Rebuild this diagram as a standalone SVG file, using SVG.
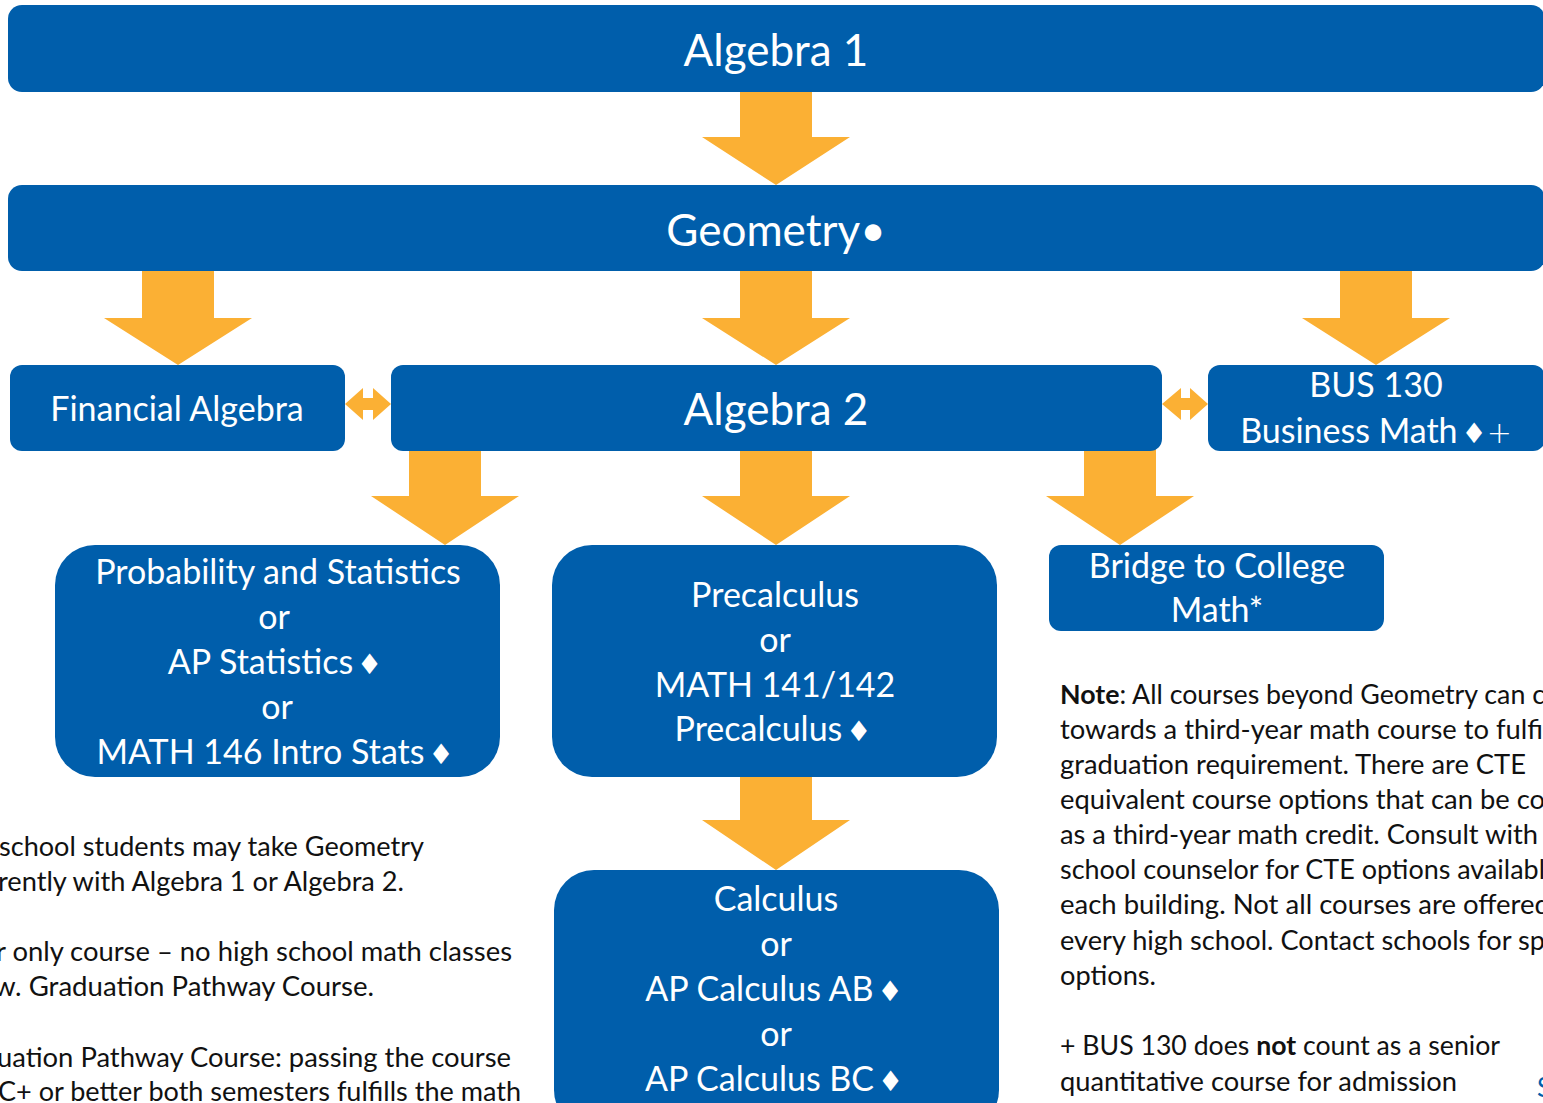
<svg xmlns="http://www.w3.org/2000/svg" width="1543" height="1103" viewBox="0 0 1543 1103">
<style>
.box{fill:#005EAB}
.arr{fill:#FBB034}
.t{font-family:Lato,"Open Sans","Liberation Sans",sans-serif;fill:#fff;text-anchor:middle}
.big{font-size:44px}
.mid{font-size:34px}
.n{font-family:Lato,"Open Sans","Liberation Sans",sans-serif;fill:#111;font-size:26px}
</style>
<rect width="1543" height="1103" fill="#fff"/>
<g id="connectors">
<polygon class="arr" points="740,90 812,90 812,137 850,137 776,185 702,137 740,137"/>
<polygon class="arr" points="142,269 214,269 214,318 252,318 178,365 104,318 142,318"/>
<polygon class="arr" points="740,269 812,269 812,318 850,318 776,365 702,318 740,318"/>
<polygon class="arr" points="1340,269 1412,269 1412,318 1450,318 1376,365 1302,318 1340,318"/>
<polygon class="arr" points="409,449 481,449 481,496 519,496 445,545 371,496 409,496"/>
<polygon class="arr" points="740,449 812,449 812,496 850,496 776,545 702,496 740,496"/>
<polygon class="arr" points="1084,449 1156,449 1156,496 1194,496 1120,545 1046,496 1084,496"/>
<polygon class="arr" points="740,775 812,775 812,820 850,820 776,870 702,820 740,820"/>
<polygon class="arr" points="345,404 363,388 363,398 373,398 373,388 391,404 373,420 373,410 363,410 363,420"/>
<polygon class="arr" points="1162,404 1181,388 1181,398 1190,398 1190,388 1208,404 1190,420 1190,410 1181,410 1181,420"/>
</g>
<g id="algebra1">
<rect class="box" x="8" y="5" width="1537" height="87" rx="14"/>
<text class="t big" x="776" y="66">Algebra 1</text>
</g>
<g id="geometry">
<rect class="box" x="8" y="185" width="1537" height="86" rx="14"/>
<text class="t big" x="776" y="246">Geometry•</text>
</g>
<g id="financial-algebra">
<rect class="box" x="10" y="365" width="335" height="86" rx="12"/>
<text class="t mid" x="177" y="421">Financial Algebra</text>
</g>
<g id="algebra2">
<rect class="box" x="391" y="365" width="771" height="86" rx="12"/>
<text class="t big" x="776" y="425">Algebra 2</text>
</g>
<g id="bus130">
<rect class="box" x="1208" y="365" width="337" height="86" rx="12"/>
<text class="t mid" x="1376" y="397">BUS 130</text>
<text class="t mid" x="1376" y="443">Business Math<tspan font-family="DejaVu Sans" font-size="28" dx="4">♦</tspan><tspan font-family="DejaVu Sans" font-size="30" font-weight="200">+</tspan></text>
</g>
<g id="prob-stats">
<rect class="box" x="55" y="545" width="445" height="232" rx="40"/>
<text class="t mid" x="278" y="584">Probability and Statistics</text>
<text class="t mid" x="274" y="629">or</text>
<text class="t mid" x="275" y="674">AP Statistics<tspan font-family="DejaVu Sans" font-size="28" dx="4">♦</tspan></text>
<text class="t mid" x="277" y="719">or</text>
<text class="t mid" x="275" y="764">MATH 146 Intro Stats<tspan font-family="DejaVu Sans" font-size="28" dx="4">♦</tspan></text>
</g>
<g id="precalculus">
<rect class="box" x="552" y="545" width="445" height="232" rx="40"/>
<text class="t mid" x="775" y="607">Precalculus</text>
<text class="t mid" x="775" y="652">or</text>
<text class="t mid" x="775" y="697">MATH 141/142</text>
<text class="t mid" x="773" y="741">Precalculus<tspan font-family="DejaVu Sans" font-size="28" dx="4">♦</tspan></text>
</g>
<g id="calculus">
<rect class="box" x="554" y="870" width="445" height="260" rx="40"/>
<text class="t mid" x="776" y="911">Calculus</text>
<text class="t mid" x="776" y="956">or</text>
<text class="t mid" x="774" y="1001">AP Calculus AB<tspan font-family="DejaVu Sans" font-size="28" dx="4">♦</tspan></text>
<text class="t mid" x="776" y="1046">or</text>
<text class="t mid" x="774" y="1091">AP Calculus BC<tspan font-family="DejaVu Sans" font-size="28" dx="4">♦</tspan></text>
</g>
<g id="bridge">
<rect class="box" x="1049" y="545" width="335" height="86" rx="12"/>
<text class="t mid" x="1217" y="578">Bridge to College</text>
<text class="t mid" x="1217" y="622">Math*</text>
</g>
<g id="note">
<text class="n" x="1060" y="704" textLength="485" lengthAdjust="spacingAndGlyphs"><tspan font-weight="bold">Note</tspan>: All courses beyond Geometry can c</text>
<text class="n" x="1060" y="739" textLength="483" lengthAdjust="spacingAndGlyphs">towards a third-year math course to fulfi</text>
<text class="n" x="1060" y="774" textLength="466" lengthAdjust="spacingAndGlyphs">graduation requirement. There are CTE</text>
<text class="n" x="1060" y="809" textLength="485" lengthAdjust="spacingAndGlyphs">equivalent course options that can be co</text>
<text class="n" x="1060" y="844" textLength="478" lengthAdjust="spacingAndGlyphs">as a third-year math credit. Consult with</text>
<text class="n" x="1060" y="879" textLength="485" lengthAdjust="spacingAndGlyphs">school counselor for CTE options availabl</text>
<text class="n" x="1060" y="914" textLength="490" lengthAdjust="spacingAndGlyphs">each building. Not all courses are offered</text>
<text class="n" x="1060" y="950" textLength="485" lengthAdjust="spacingAndGlyphs">every high school. Contact schools for sp</text>
<text class="n" x="1060" y="985" textLength="96" lengthAdjust="spacingAndGlyphs">options.</text>
<text class="n" x="1060" y="1055" textLength="440" lengthAdjust="spacingAndGlyphs">+ BUS 130 does <tspan font-weight="bold">not</tspan> count as a senior</text>
<text class="n" x="1060" y="1091" textLength="397" lengthAdjust="spacingAndGlyphs">quantitative course for admission</text>
<text class="n" x="1537" y="1097" style="fill:#005EAB">S</text>
</g>
<g id="footnotes">
<text class="n" x="-1" y="856" textLength="425" lengthAdjust="spacingAndGlyphs">school students may take Geometry</text>
<text class="n" x="-2" y="891" textLength="406" lengthAdjust="spacingAndGlyphs">rently with Algebra 1 or Algebra 2.</text>
<text class="n" x="-4" y="961" textLength="516" lengthAdjust="spacingAndGlyphs">r only course – no high school math classes</text>
<text class="n" x="-6" y="996" textLength="380" lengthAdjust="spacingAndGlyphs">w. Graduation Pathway Course.</text>
<text class="n" x="-3" y="1067" textLength="514" lengthAdjust="spacingAndGlyphs">uation Pathway Course: passing the course</text>
<text class="n" x="-2" y="1101" textLength="523" lengthAdjust="spacingAndGlyphs">C+ or better both semesters fulfills the math</text>
</g>
</svg>
